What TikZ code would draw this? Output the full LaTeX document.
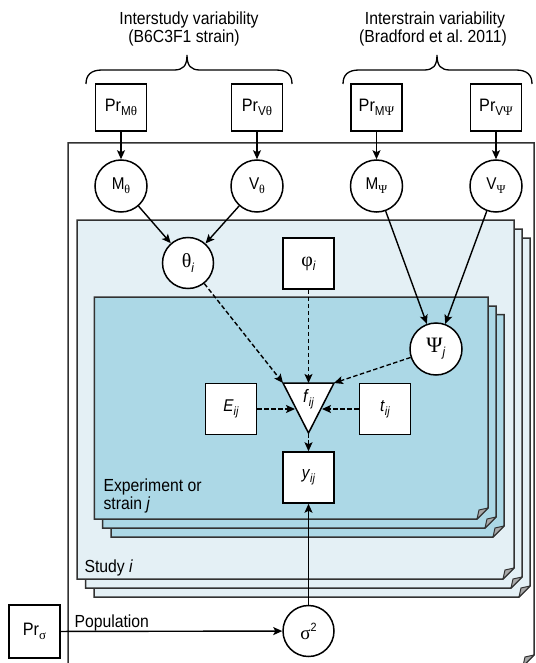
\documentclass[tikz,border=0pt]{standalone}
\usepackage{fontspec}
\setmainfont{Liberation Sans}[FakeStretch=0.9]
\newfontfamily\grk{Liberation Serif}
\usetikzlibrary{arrows.meta}

\definecolor{studyblue}{RGB}{228,240,245}
\definecolor{exptblue}{RGB}{172,216,230}
\definecolor{platerim}{RGB}{50,50,50}
\definecolor{flapgray}{RGB}{168,168,168}

% lowered index in a smaller size
\newcommand{\lowidx}[2][10]{\raisebox{-0.45ex}{\fontsize{#1}{#1}\selectfont #2}}
% plate with a dog-eared lower right corner: fill, left, top, right, bottom
\newcommand{\dogplate}[5]{%
  \filldraw[plate, fill=#1] (#2,#3) -- (#4,#3) -- (#4,#5-11) -- (#4-11,#5) -- (#2,#5) -- cycle;
  \filldraw[flap] (#4-11,#5) -- (#4,#5-11) -- (#4-9,#5-9) -- cycle;}
% curly bracket over a group: left end, tip, right end
\newcommand{\topbrace}[3]{%
  \draw[bracket] (#1,84) .. controls (#1,75) and (#1+5,70) .. (#1+16,70)
    -- (#2-13,70) .. controls (#2-4,70) and (#2,66) .. (#2,55)
    .. controls (#2,66) and (#2+4,70) .. (#2+13,70)
    -- (#3-16,70) .. controls (#3-5,70) and (#3,75) .. (#3,84);}

\begin{document}
\begin{tikzpicture}[x=1pt,y=-1pt,
  plate/.style={draw=platerim, line width=1.5pt, line join=miter},
  flap/.style={fill=flapgray, draw=platerim, line width=1pt, line join=round},
  bracket/.style={draw=black, line width=1.3pt},
  prior/.style={draw=black, line width=1.5pt, fill=white, minimum width=51pt,
    minimum height=47pt, inner sep=0pt, font=\fontsize{18}{18}\selectfont},
  datum/.style={draw=black, line width=1.5pt, fill=white, minimum width=51pt,
    minimum height=51pt, inner sep=0pt, font=\fontsize{17}{17}\selectfont},
  param/.style={circle, draw=black, line width=1.5pt, fill=white, minimum size=52pt,
    inner sep=0pt, font=\fontsize{17}{17}\selectfont},
  link/.style={draw=black, line width=1.4pt, -{Stealth[length=9pt,width=8pt,inset=2pt]}},
  weaklink/.style={link, dash pattern=on 4.5pt off 2.5pt},
  caption/.style={anchor=base, font=\fontsize{17.5}{17.5}\selectfont},
  platename/.style={anchor=base west, font=\fontsize{17.5}{17.5}\selectfont},
]
\useasboundingbox (0,0) rectangle (535,663);
\clip (0,0) rectangle (535,663);

% population plate
\dogplate{white}{68}{143}{534}{666}
% study plates
\dogplate{studyblue}{94}{238}{530}{597}
\dogplate{studyblue}{85.5}{229}{522}{588}
\dogplate{studyblue}{77}{220}{514}{579}
% experiment plates
\dogplate{exptblue}{111}{314.5}{504}{537}
\dogplate{exptblue}{102.7}{306}{496}{528}
\dogplate{exptblue}{94.3}{297}{488}{519}

% group brackets and their captions
\topbrace{86}{187}{292}
\topbrace{343}{437}{532}
\node[caption] (hs1) at (189,25) {Interstudy variability};
\node[caption] (hs2) at (184,43) {(B6C3F1 strain)};
\node[caption] (hr1) at (435,25) {Interstrain variability};
\node[caption] (hr2) at (433,43) {(Bradford et al.\ 2011)};

% plate names
\node[platename] (lexp1) at (100,491) {Experiment or};
\node[platename] (lexp2) at (100,509) {strain \textit{j}};
\node[platename] (lstudy) at (81,572) {Study \textit{i}};
\node[platename] (lpop) at (71,627.5) {Population};

% priors
\node[prior] (prMt) at (121,107.5) {Pr\lowidx[13]{M{\grk θ}}};
\node[prior] (prVt) at (257,107.5) {Pr\lowidx[13]{V{\grk θ}}};
\node[prior] (prMp) at (376.5,107.5) {Pr\lowidx[13]{M{\grk Ψ}}};
\node[prior] (prVp) at (496,107.5) {Pr\lowidx[13]{V{\grk Ψ}}};
\node[prior, minimum height=53pt] (prS) at (34.5,631.5) {Pr\lowidx[13]{\grk σ}};

% hyperparameters
\node[param] (Mt) at (121,186) {M\lowidx[12]{\grk θ}};
\node[param] (Vt) at (257,186) {V\lowidx[12]{\grk θ}};
\node[param] (Mp) at (376.5,186) {M\lowidx[12]{\grk Ψ}};
\node[param] (Vp) at (496,186) {V\lowidx[12]{\grk Ψ}};

% study and strain level
\node[param, minimum size=51pt] (theta) at (188,263) {{\grk\fontsize{20}{20}\selectfont θ}\lowidx[13]{\textit{i}}};
\node[datum] (phi) at (308.5,263.5) {{\grk\fontsize{20}{20}\selectfont φ}\lowidx[13]{\textit{i}}};
\node[param] (psi) at (436,349) {{\grk\fontsize{22}{22}\selectfont Ψ}\lowidx[13]{\textit{j}}};

% model function (inverted triangle)
\coordinate (fL) at (283,383);
\coordinate (fR) at (334,383);
\coordinate (fB) at (308.5,433);
\coordinate (fTop) at (308.5,383);
\coordinate (fW) at (295,409);
\coordinate (fE) at (322,409);
\filldraw[draw=black, fill=white, line width=1.5pt, line join=miter] (fL) -- (fR) -- (fB) -- cycle;
\node[font=\fontsize{18}{18}\selectfont, inner sep=0pt] (f) at (308.5,399) {\textit{f}\lowidx[12]{\textit{ij}}};

% data
\node[datum] (E) at (231,409) {\textit{E}\lowidx[12]{\textit{ij}}};
\node[datum] (t) at (385,409) {\textit{t}\lowidx[12]{\textit{ij}}};
\node[datum] (y) at (308.5,477.5) {\textit{y}\lowidx[12]{\textit{ij}}};

% residual variance
\node[param, minimum size=51pt] (sig) at (308.5,631) {{\grk\fontsize{19}{19}\selectfont σ}\raisebox{0.9ex}{\fontsize{12}{12}\selectfont 2}};

% dependencies
\draw[link] (prMt) -- (Mt);
\draw[link] (prVt) -- (Vt);
\draw[link] (prMp) -- (Mp);
\draw[link] (prVp) -- (Vp);
\draw[link] (Mt) -- (theta);
\draw[link] (Vt) -- (theta);
\draw[link] (Mp) -- (psi);
\draw[link] (Vp) -- (psi);
\draw[weaklink] (theta) -- (fL);
\draw[weaklink] (phi) -- (fTop);
\draw[weaklink] (psi) -- (fR);
\draw[weaklink] (E) -- (fW);
\draw[weaklink] (t) -- (fE);
\draw[weaklink] (fB) -- (y);
\draw[link] (sig) -- (y);
\draw[link] (prS) -- (sig);
\end{tikzpicture}
\end{document}
